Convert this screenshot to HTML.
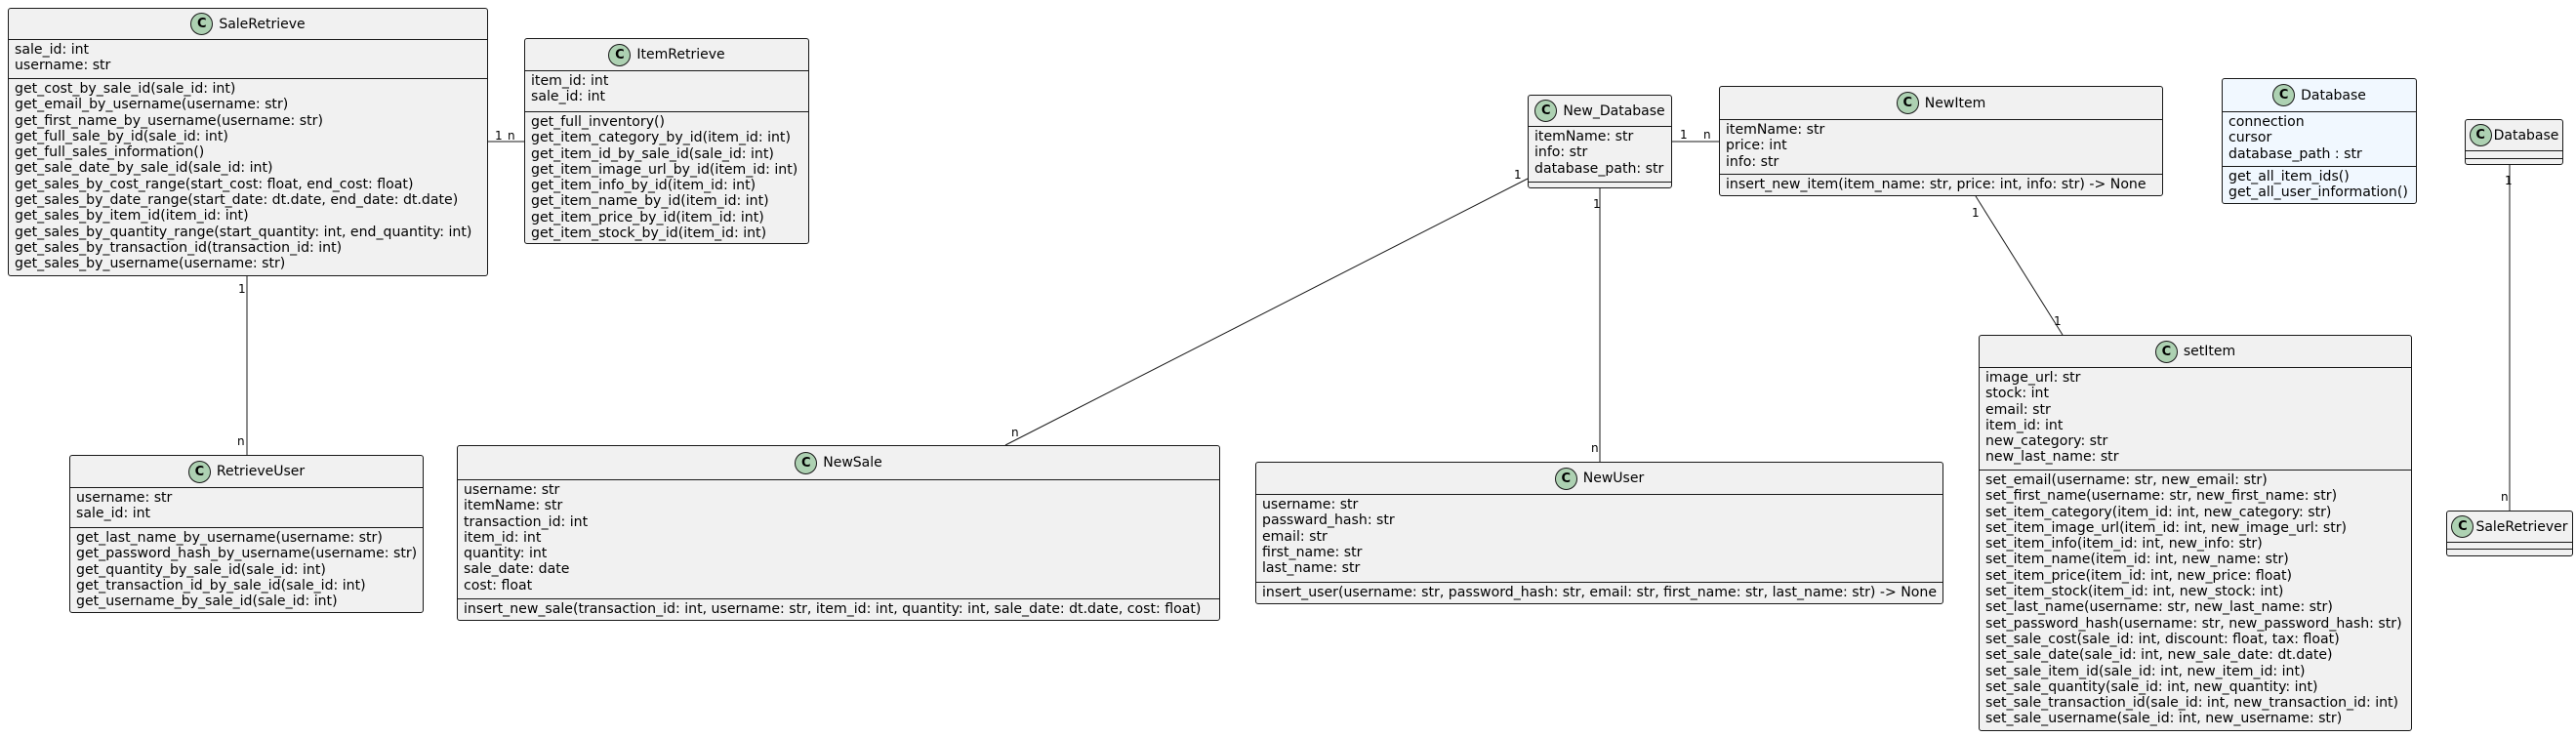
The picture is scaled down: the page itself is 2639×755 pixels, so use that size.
<!DOCTYPE html>
<html><head><meta charset="utf-8"><style>
body{margin:0;width:2639px;height:755px;background:#fff;position:relative;overflow:hidden;font-family:"DejaVu Sans","Liberation Sans",sans-serif;font-size:14px;color:#000}
.b{position:absolute;box-sizing:border-box;border:1px solid #181818;background:#F1F1F1;border-radius:3px;overflow:hidden}
.h{box-sizing:border-box;display:flex;align-items:center;justify-content:center;white-space:nowrap}
.c{display:inline-block;width:21px;height:21px;border:1px solid #181818;border-radius:50%;background:#ADD1B2;text-align:center;line-height:21px;font-size:13px;font-weight:bold;margin-right:6px;flex:none}
.s{box-sizing:border-box;border-top:1px solid #181818;padding:2px 0 0 6px;line-height:16.3px;white-space:pre;font-size:14.1px}
.l{position:absolute;font-size:12px;line-height:12px}
</style></head><body>
<svg width="2639" height="755" style="position:absolute;left:0;top:0">
<g stroke="#181818" stroke-width="1" fill="none">
<line x1="500" y1="145" x2="537" y2="145"/>
<line x1="253" y1="283" x2="253" y2="466"/>
<line x1="1713" y1="145" x2="1761" y2="145"/>
<line x1="1565" y1="183" x2="1030" y2="456"/>
<line x1="1639" y1="193" x2="1639" y2="473"/>
<line x1="2024" y1="201" x2="2113" y2="343"/>
<line x1="2571" y1="169" x2="2571" y2="523"/>
</g></svg>
<div class="l" style="left:507px;top:133px">1</div><div class="l" style="left:520px;top:133px">n</div>
<div class="l" style="left:244px;top:290px">1</div><div class="l" style="left:243px;top:446px">n</div>
<div class="l" style="left:1721px;top:132px">1</div><div class="l" style="left:1745px;top:132px">n</div>
<div class="l" style="left:1551px;top:173px">1</div><div class="l" style="left:1036px;top:437px">n</div>
<div class="l" style="left:1632px;top:203px">1</div><div class="l" style="left:1630px;top:453px">n</div>
<div class="l" style="left:2020px;top:212px">1</div><div class="l" style="left:2104px;top:323px">1</div>
<div class="l" style="left:2566px;top:179px">1</div><div class="l" style="left:2562px;top:503px">n</div>

<div class="b" style="left:8px;top:8px;width:492px;height:275px"><div class="h" style="height:31px"><span class="c">C</span>SaleRetrieve</div><div class="s" style="height:40px">sale_id: int
username: str</div><div class="s">get_cost_by_sale_id(sale_id: int)
get_email_by_username(username: str)
get_first_name_by_username(username: str)
get_full_sale_by_id(sale_id: int)
get_full_sales_information()
get_sale_date_by_sale_id(sale_id: int)
get_sales_by_cost_range(start_cost: float, end_cost: float)
get_sales_by_date_range(start_date: dt.date, end_date: dt.date)
get_sales_by_item_id(item_id: int)
get_sales_by_quantity_range(start_quantity: int, end_quantity: int)
get_sales_by_transaction_id(transaction_id: int)
get_sales_by_username(username: str)</div></div>

<div class="b" style="left:537px;top:39px;width:292px;height:211px"><div class="h" style="height:32px"><span class="c">C</span>ItemRetrieve</div><div class="s" style="height:42px">item_id: int
sale_id: int</div><div class="s">get_full_inventory()
get_item_category_by_id(item_id: int)
get_item_id_by_sale_id(sale_id: int)
get_item_image_url_by_id(item_id: int)
get_item_info_by_id(item_id: int)
get_item_name_by_id(item_id: int)
get_item_price_by_id(item_id: int)
get_item_stock_by_id(item_id: int)</div></div>

<div class="b" style="left:71px;top:466px;width:363px;height:162px"><div class="h" style="height:32px"><span class="c">C</span>RetrieveUser</div><div class="s" style="height:41px">username: str
sale_id: int</div><div class="s">get_last_name_by_username(username: str)
get_password_hash_by_username(username: str)
get_quantity_by_sale_id(sale_id: int)
get_transaction_id_by_sale_id(sale_id: int)
get_username_by_sale_id(sale_id: int)</div></div>

<div class="b" style="left:468px;top:456px;width:782px;height:180px"><div class="h" style="height:34px"><span class="c">C</span>NewSale</div><div class="s" style="height:122px">username: str
itemName: str
transaction_id: int
item_id: int
quantity: int
sale_date: date
cost: float</div><div class="s">insert_new_sale(transaction_id: int, username: str, item_id: int, quantity: int, sale_date: dt.date, cost: float)</div></div>

<div class="b" style="left:1286px;top:473px;width:705px;height:146px"><div class="h" style="height:32px"><span class="c">C</span>NewUser</div><div class="s" style="height:90px">username: str
passward_hash: str
email: str
first_name: str
last_name: str</div><div class="s">insert_user(username: str, password_hash: str, email: str, first_name: str, last_name: str) -&gt; None</div></div>

<div class="b" style="left:1565px;top:97px;width:148px;height:96px"><div class="h" style="height:31px"><span class="c">C</span>New_Database</div><div class="s" style="height:57px">itemName: str
info: str
database_path: str</div><div class="s"></div></div>

<div class="b" style="left:1761px;top:88px;width:455px;height:113px"><div class="h" style="height:33px"><span class="c">C</span>NewItem</div><div class="s" style="height:56px">itemName: str
price: int
info: str</div><div class="s">insert_new_item(item_name: str, price: int, info: str) -&gt; None</div></div>

<div class="b" style="left:2276px;top:80px;width:200px;height:129px;background:#F1F8FF"><div class="h" style="height:33px"><span class="c">C</span>Database</div><div class="s" style="height:56px">connection
cursor
database_path : str</div><div class="s">get_all_item_ids()
get_all_user_information()</div></div>

<div class="b" style="left:2525px;top:122px;width:101px;height:47px"><div class="h" style="height:31px"><span class="c" style="margin-right:2px">C</span>Database</div><div class="s" style="height:8px;padding:0"></div><div class="s" style="padding:0"></div></div>

<div class="b" style="left:2506px;top:523px;width:130px;height:47px"><div class="h" style="height:31px"><span class="c" style="margin-right:2px">C</span>SaleRetriever</div><div class="s" style="height:7px;padding:0"></div><div class="s" style="padding:0"></div></div>

<div class="b" style="left:2027px;top:343px;width:444px;height:406px"><div class="h" style="height:32px"><span class="c">C</span>setItem</div><div class="s" style="height:105px">image_url: str
stock: int
email: str
item_id: int
new_category: str
new_last_name: str</div><div class="s">set_email(username: str, new_email: str)
set_first_name(username: str, new_first_name: str)
set_item_category(item_id: int, new_category: str)
set_item_image_url(item_id: int, new_image_url: str)
set_item_info(item_id: int, new_info: str)
set_item_name(item_id: int, new_name: str)
set_item_price(item_id: int, new_price: float)
set_item_stock(item_id: int, new_stock: int)
set_last_name(username: str, new_last_name: str)
set_password_hash(username: str, new_password_hash: str)
set_sale_cost(sale_id: int, discount: float, tax: float)
set_sale_date(sale_id: int, new_sale_date: dt.date)
set_sale_item_id(sale_id: int, new_item_id: int)
set_sale_quantity(sale_id: int, new_quantity: int)
set_sale_transaction_id(sale_id: int, new_transaction_id: int)
set_sale_username(sale_id: int, new_username: str)</div></div>
</body></html>
